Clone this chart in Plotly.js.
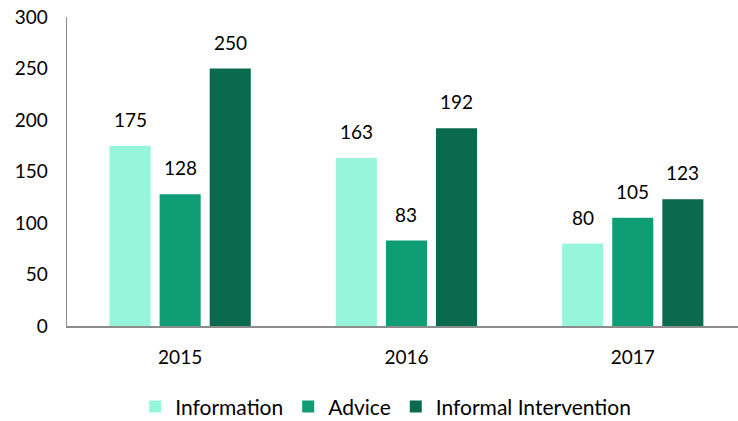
<!DOCTYPE html>
<html>
<head>
<meta charset="utf-8">
<script src="https://cdn.plot.ly/plotly-3.0.1.min.js"></script>
<style>html,body{margin:0;padding:0;background:#fff;}#chart{width:738px;height:421px;}</style>
</head>
<body>
<div id="chart"></div>
<script>
const years = ['2015', '2016', '2017'];
const information = [175, 163, 80];
const advice = [128, 83, 105];
const informal = [250, 192, 123];
const seriesNames = ['Information', 'Advice', 'Informal Intervention'];
const seriesColors = ['#96F6DC', '#0F9D76', '#0A6A4E'];
const yTicks = [0, 50, 100, 150, 200, 250, 300];

const FONT = 'Lato, "Open Sans", sans-serif';
const allSeries = [information, advice, informal];
const traces = allSeries.map((vals, i) => ({
  type: 'bar',
  name: seriesNames[i],
  x: years,
  y: vals,
  marker: {color: seriesColors[i]},
  textposition: 'none',
  hoverinfo: 'x+y+name'
}));

const annotations = [];
allSeries.forEach((vals, i) => {
  vals.forEach((v, j) => {
    annotations.push({
      x: j, y: v, xref: 'x', yref: 'y',
      text: String(v), showarrow: false,
      xanchor: 'center', yanchor: 'bottom',
      xshift: (i - 1) * 50, yshift: 13,
      font: {family: FONT, size: 19, color: '#000'}
    });
  });
});

const layout = {
  width: 738, height: 421,
  margin: {l: 67, r: 0, t: 17, b: 95, autoexpand: false},
  paper_bgcolor: '#fff', plot_bgcolor: '#fff',
  barmode: 'group', bargap: 0.336, bargroupgap: 0.18,
  showlegend: true,
  legend: {orientation: 'h', x: 0.475, xanchor: 'center', y: -0.262, yanchor: 'middle',
           font: {family: FONT, size: 21, color: '#000'}, itemwidth: 30, traceorder: 'normal'},
  xaxis: {type: 'category', range: [-0.5, 2.465], showline: true, linecolor: '#8c8c8c', linewidth: 1.5,
          ticks: '', showgrid: false, zeroline: false, ticklabelstandoff: 14, automargin: false,
          tickfont: {family: FONT, size: 19, color: '#000'}},
  yaxis: {range: [0, 300], tickvals: yTicks, showline: true, linecolor: '#8c8c8c', linewidth: 1.5,
          ticks: '', showgrid: false, zeroline: false, ticklabelstandoff: 14, automargin: false,
          tickfont: {family: FONT, size: 19, color: '#000'}},
  annotations: annotations,
  font: {family: FONT}
};

Plotly.newPlot('chart', traces, layout, {displayModeBar: false, staticPlot: true});
</script>
</body>
</html>
